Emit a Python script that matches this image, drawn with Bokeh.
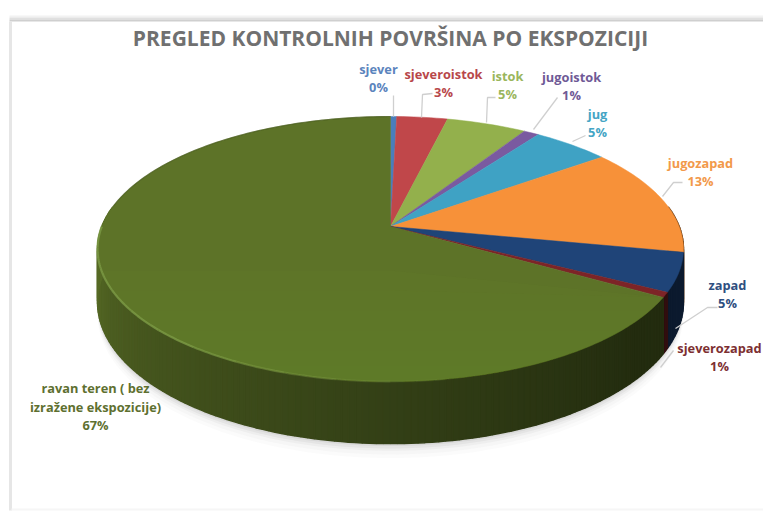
import numpy as np
from bokeh.plotting import figure
from bokeh.embed import file_html
from bokeh.resources import INLINE
from bokeh.models import Range1d, Label

# Share of control plots per aspect
categories = ["sjever", "sjeveroistok", "istok", "jugoistok", "jug", "jugozapad", "zapad", "sjeverozapad", "ravan teren"]
shares = [0.4, 3.3, 5.2, 1.0, 5.0, 13.2, 4.7, 0.6, 66.6]
colors = ["#4a7ebb", "#c0474a", "#93b04c", "#7a5aa0", "#3fa2c4", "#f79139", "#1f4478", "#7d2427", "#5d7328"]
label_colors = ["#5b84bd", "#b8474a", "#9ab65c", "#6f5a96", "#45a5c5", "#f2994a", "#2f4f80", "#7d2f32", "#5e7030"]

CX, CY = 390.0, 226.0
RX, RY, K = 288.7, 128.7, 0.17
DEPTH = 51.5


def rim(theta, drop=0.0):
    """Perspective projection of a point on the pie rim, clockwise from north."""
    u, v = np.sin(theta), np.cos(theta)
    w = 1 + K * v
    return CX + RX * u / w, CY - RY * v / w + drop / w


def mix(a, b, t):
    ca = [int(a[i:i + 2], 16) for i in (1, 3, 5)]
    cb = [int(b[i:i + 2], 16) for i in (1, 3, 5)]
    return "#%02x%02x%02x" % tuple(int(round(x + (y - x) * t)) for x, y in zip(ca, cb))


p = figure(width=763, height=516, output_backend="svg", toolbar_location=None,
           x_range=Range1d(0, 763), y_range=Range1d(516, 0), min_border=0)
p.axis.visible = False
p.grid.visible = False
p.outline_line_color = None

# Faint edge of the chart area
for yy, col in zip([16, 18, 20], ["#f2f2f2", "#e0e0e0", "#cfcfcf"]):
    p.line([9, 763], [yy, yy], line_color=col, line_width=2)
p.line([10, 10], [21, 510], line_color="#e6e6e6", line_width=3)
p.line([11, 763], [509, 509], line_color="#f6f6f6", line_width=2)

edges = 2 * np.pi * np.cumsum([0] + shares) / sum(shares)

# Soft shadow under the pie
for grow, alpha in zip([12, 9, 6, 4, 2], [0.025, 0.035, 0.05, 0.07, 0.09]):
    t = np.linspace(0, 2 * np.pi, 200)
    x, y = rim(t, DEPTH + grow)
    p.patch(x, y, fill_color="#666666", fill_alpha=alpha, line_color=None)

# Rim of the pie, only the half facing the viewer is visible
for start, end, col, name in zip(edges[:-1], edges[1:], colors, categories):
    lo, hi = max(start, np.pi * 0.45), min(end, np.pi * 1.55)
    if hi <= lo:
        continue
    steps = max(2, int((hi - lo) / 0.02))
    ts = np.linspace(lo, hi, steps + 1)
    for a, b in zip(ts[:-1], ts[1:]):
        # lighter toward the west, near black toward the east
        f = np.clip((np.pi * 1.45 - (a + b) / 2) / (np.pi * 0.72), 0, 1)
        shade = mix(mix(col, "#000000", 0.08), mix(col, "#000000", 0.62), f ** 0.8)
        xa, ya = rim(a)
        xb, yb = rim(b)
        xc, yc = rim(b, DEPTH)
        xd, yd = rim(a, DEPTH)
        p.patch([xa, xb, xc, xd], [ya, yb, yc, yd], fill_color=shade, line_color=shade, line_width=1.5)

# Top face, sliced from the same shares
for start, end, col in zip(edges[:-1], edges[1:], colors):
    ts = np.linspace(start, end, max(3, int((end - start) / 0.02)))
    x, y = rim(ts)
    p.patch(np.r_[CX, x], np.r_[CY, y], fill_color=col, line_color=col, line_width=0.5)

# Top face of the flat-terrain slice brightens toward the viewer
ts = np.linspace(edges[-2], edges[-1], 300)
sx, sy = rim(ts)
sx, sy = np.r_[CX, sx], np.r_[CY, sy]
for h in [270, 290, 310, 330, 350, 365]:
    p.patch(sx, np.maximum(sy, h), fill_color="#7a9a30", fill_alpha=0.045, line_color=None)

# Thin dark edge along the back, bevel along the front left that fades out near the front
back = ts[ts > np.pi * 1.55]
x, y = rim(back)
p.line(x, y, line_color="#46591c", line_width=1.2, line_alpha=0.6)
bevel_stops = np.linspace(np.pi * 0.9, np.pi * 1.5, 13)
for a, b in zip(bevel_stops[:-1], bevel_stops[1:]):
    arc = np.linspace(a, b, 12)
    x, y = rim(arc)
    fade = min(1.0, (a - np.pi * 0.9) / (np.pi * 0.3))
    p.line(x, y, line_color="#7f9e48", line_width=2.2, line_alpha=0.75 * fade)

font = "Open Sans"
title = Label(x=390, y=37, text="PREGLED KONTROLNIH POVRŠINA PO EKSPOZICIJI", text_font=font,
              text_font_size="21px", text_font_style="bold", text_color="#707070",
              text_align="center", text_baseline="middle")
p.add_layout(title)

# Data labels: name above, rounded share below
label_pos = [(378, 68), (443, 73), (507, 75), (571, 76), (597, 113), (700, 162), (727, 284), (719, 347), (95, 387)]
leaders = [[(393, 95), (393, 116)],
           [(432, 93), (422, 94), (421, 117)],
           [(495, 97), (487, 97), (486, 122)],
           [(557, 97), (533, 129)],
           [(585, 135), (572, 141)],
           [(682, 182), (673, 182), (662, 196)],
           [(717, 307), (707, 307), (675, 328)],
           [(673, 350), (660, 367)]]
for seg in leaders:
    p.line([q[0] for q in seg], [q[1] for q in seg], line_color="#cfcfcf", line_width=1.3)

for name, share, col, (lx, ly) in zip(categories[:-1], shares[:-1], label_colors[:-1], label_pos[:-1]):
    for text, dy in ((name, 0), (f"{round(share)}%", 18)):
        p.add_layout(Label(x=lx, y=ly + dy, text=text, text_font=font, text_font_size="12.8px",
                           text_font_style="bold", text_color=col, text_align="center", text_baseline="middle"))

lx, ly = label_pos[-1]
for text, dy in (("ravan teren ( bez", 0), ("izražene ekspozicije)", 19), (f"{round(shares[-1])}%", 37)):
    p.add_layout(Label(x=lx, y=ly + dy, text=text, text_font=font, text_font_size="12.8px",
                       text_font_style="bold", text_color=label_colors[-1], text_align="center", text_baseline="middle"))

open("out.html", "w").write(file_html(p, INLINE))
